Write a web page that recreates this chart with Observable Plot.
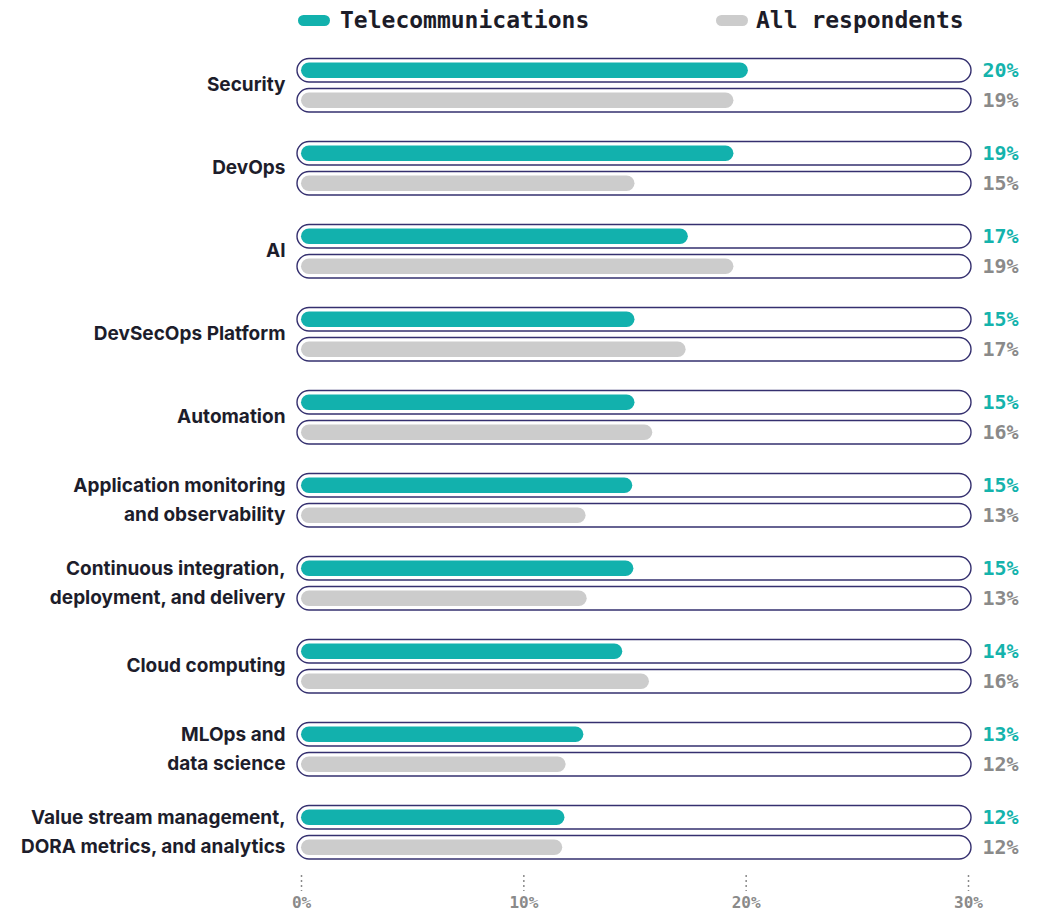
<!DOCTYPE html>
<html><head><meta charset="utf-8">
<script src="https://cdn.jsdelivr.net/npm/d3@7"></script>
<script src="https://cdn.jsdelivr.net/npm/@observablehq/plot@0.6"></script>
<style>
body{margin:0;background:#fff;}
#legend{position:relative;height:42px;width:1042px;font-family:"DejaVu Sans Mono",monospace;font-weight:bold;font-size:23px;color:#1c1c28;}
.sw{position:absolute;top:15px;width:32px;height:11px;border-radius:6px;}
.lt{position:absolute;top:5px;line-height:30px;white-space:nowrap;}
</style></head><body>
<div id="legend"></div>
<div id="chart"></div>
<script>
const categories = [
  "Security",
  "DevOps",
  "AI",
  "DevSecOps Platform",
  "Automation",
  "Application monitoring\nand observability",
  "Continuous integration,\ndeployment, and delivery",
  "Cloud computing",
  "MLOps and\ndata science",
  "Value stream management,\nDORA metrics, and analytics"
];
const series = ["Telecommunications", "All respondents"];
const telecom = [20.1, 19.45, 17.4, 15.0, 15.0, 14.9, 14.95, 14.45, 12.7, 11.85];
const allRespondents = [19.45, 15.0, 19.45, 17.3, 15.8, 12.8, 12.85, 15.65, 11.9, 11.75];
const xTicks = [0, 10, 20, 30];

const barColors = ["#12b1ad", "#cccccc"];
const textColors = ["#14b3ac", "#8a8a8a"];

const rows = [];
categories.forEach((c, i) => {
  rows.push({category: c, series: series[0], value: telecom[i]});
  rows.push({category: c, series: series[1], value: allRespondents[i]});
});

// legend
const legend = document.getElementById("legend");
const legendPos = [[298, 340], [716, 756]];
series.forEach((s, i) => {
  const sw = document.createElement("div");
  sw.className = "sw"; sw.style.left = legendPos[i][0] + "px"; sw.style.background = barColors[i];
  const t = document.createElement("div");
  t.className = "lt"; t.style.left = legendPos[i][1] + "px"; t.textContent = s;
  legend.appendChild(sw); legend.appendChild(t);
});

const mono = "DejaVu Sans Mono, monospace";
const xMin = xTicks[0], xMax = xTicks[xTicks.length - 1];

const chart = Plot.plot({
  width: 1042,
  height: 870,
  marginLeft: 301,
  marginRight: 74,
  marginTop: 11.75,
  marginBottom: 47.6,
  x: {domain: [xMin, xMax], axis: null},
  y: {domain: series, padding: 0, axis: null},
  fy: {domain: categories, paddingInner: 0.268, paddingOuter: 0, axis: null},
  color: {domain: series, range: barColors},
  marks: [
    Plot.barX(rows, {
      x1: () => xMin, x2: () => xMax, y: "series", fy: "category",
      fill: "white", stroke: "#35306f", strokeWidth: 1.4, rx: 12,
      insetTop: 3.25, insetBottom: 3.25, insetLeft: -4, insetRight: -3
    }),
    Plot.barX(rows, {
      x: "value", y: "series", fy: "category", fill: "series", rx: 8,
      insetTop: 7.25, insetBottom: 7.25
    }),
    ...series.map((s, i) => Plot.text(rows.filter(d => d.series === s), {
      y: "series", fy: "category", text: d => Math.round(d.value) + "%",
      frameAnchor: "right", dx: 14, textAnchor: "start",
      fill: textColors[i], fontFamily: mono, fontWeight: "bold", fontSize: 20
    })),
    Plot.text(categories, {
      fy: d => d, text: d => d, frameAnchor: "left", textAnchor: "end", dx: -16, dy: -4,
      lineHeight: 1.52, fontSize: 19, fontWeight: 700, fontFamily: "Inter, sans-serif", fill: "#1d1d2b"
    }),
    Plot.axisX(xTicks, {
      tickSize: 16, dy: 12, tickPadding: 5, tickFormat: d => d + "%", label: null,
      stroke: "#8a8a8a", strokeDasharray: "2,3", strokeWidth: 1.5,
      fill: "#8a8a8a", fontFamily: mono, fontSize: 16, fontWeight: 600
    })
  ]
});
document.getElementById("chart").appendChild(chart);
</script>
</body></html>
